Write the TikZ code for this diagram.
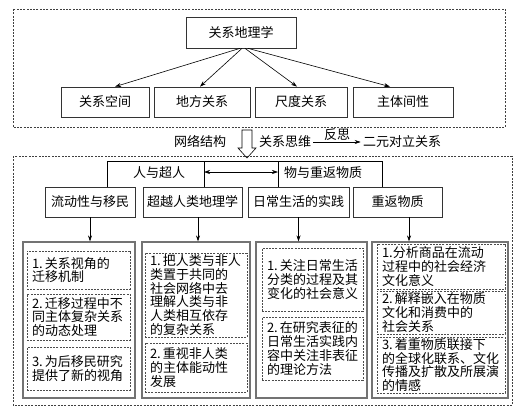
\documentclass[tikz,border=0pt]{standalone}
\usepackage{fontspec}
\setmainfont{Noto Sans CJK SC}
\usetikzlibrary{arrows.meta}
\def\big{\fontsize{13}{14}\selectfont}
\def\small{\fontsize{13}{13.8}\selectfont}
\def\no#1{#1.\kern2pt}
\tikzset{
  box/.style={draw=black!80,line width=0.7pt,minimum height=30pt,inner sep=2pt,font=\big},
  colbox/.style={draw=black!55,line width=1.1pt,minimum height=156pt,minimum width=#1},
  ibox/.style={draw=black!70,line width=0.6pt,dash pattern=on 2pt off 1.2pt,
    inner xsep=5pt,inner ysep=0.5pt,text width=#1,align=left,font=\small},
  frame/.style={draw=black!75,line width=0.6pt,dash pattern=on 2pt off 1.3pt},
  arr/.style={-{Stealth[length=6pt,width=4pt]},line width=0.6pt},
  darr/.style={{Stealth[length=6pt,width=4pt]}-{Stealth[length=6pt,width=4pt]},line width=0.6pt},
  lbl/.style={font=\big,inner sep=2pt}
}
\begin{document}
\begin{tikzpicture}[x=1pt,y=-1pt,line width=0.6pt]
                \useasboundingbox (0,0) rectangle (521,412);
                % upper frame
                \draw[frame] (13,9) rectangle (505,127);
                \node[box,minimum width=110pt,minimum height=31pt] (rg) at (241,32.5) {关系地理学};
                \node[box,minimum width=88pt]  (s1) at (105,102) {关系空间};
                \node[box,minimum width=96pt]  (s2) at (202,102) {地方关系};
                \node[box,minimum width=92pt]  (s3) at (301,102) {尺度关系};
                \node[box,minimum width=100pt] (s4) at (403,102) {主体间性};
                \draw[arr] ([xshift=-1pt]rg.south) -- ([xshift=10pt]s1.north);
                \draw[arr] ([xshift=1pt]rg.south)  -- ([xshift=-2pt]s2.north);
                \draw[arr] ([xshift=4pt]rg.south)  -- ([xshift=-4pt]s3.north);
                \draw[arr] ([xshift=7pt]rg.south)  -- ([xshift=-13pt]s4.north);
                % middle line
                \draw[line width=0.6pt] (242,130) -- (252,130) -- (252,148) -- (256,148)
                    -- (247,158) -- (238,148) -- (242,148) -- cycle;
                \node[lbl] (net) at (200,141) {网络结构};
                \node[lbl] (think) at (285,142) {关系思维};
                \node[lbl] (dual) at (402,142) {二元对立关系};
                \draw[arr] (think) -- (dual) node[midway,above,lbl,yshift=-1pt] {反思};
                % lower frame
                \draw[frame] (13,156) rectangle (512,405);
                \node[box,minimum width=90pt]  (r1) at (90,202)    {流动性与移民};
                \node[box,minimum width=99pt]  (r2) at (192.5,202) {超越人类地理学};
                \node[box,minimum width=101pt] (r3) at (298.5,202) {日常生活的实践};
                \node[box,minimum width=89pt]  (r4) at (397.5,202) {重返物质};
                \coordinate (b1) at (107,161);
                \coordinate (b2) at (204,161);
                \coordinate (b3) at (278,161);
                \coordinate (b4) at (382,161);
                \draw (b1 |- r1.north) -- (b1) -- (b4) -- (b4 |- r4.north);
                \draw (b2) -- (b2 |- r2.north);
                \draw (b3) -- (b3 |- r3.north);
                \draw[darr] ([yshift=-11pt]b2) -- ([yshift=-11pt]b3);
                \node[lbl] (man) at (159,173) {人与超人};
                \node[lbl] (thing) at (323,173) {物与重返物质};
                % columns
                \node[colbox=112pt] (c1) at (79,320) {};
                \node[colbox=108pt] (c2) at (196,320) {};
                \node[colbox=111pt] (c3) at (311.5,320) {};
                \node[colbox=136pt] (c4) at (440,320) {};
                \draw[arr] (r1.south) -- (r1.south |- c1.north);
                \draw[arr] ([xshift=5.5pt]r2.south) -- ([xshift=5.5pt]r2.south |- c2.north);
                \draw[arr] (r3.south) -- (r3.south |- c3.north);
                \draw[arr] ([xshift=11.5pt]r4.south) -- ([xshift=11.5pt]r4.south |- c4.north);
                \node[ibox=93pt,minimum height=38pt] (c1a) at (78.5,270) {\no1关系视角的\\迁移机制};
                \node[ibox=93pt,minimum height=46pt] (c1b) at (78.5,317) {\no2迁移过程中不\\同主体复杂关系\\的动态处理};
                \node[ibox=93pt,minimum height=43pt] (c1c) at (78.5,368.5) {\no3为后移民研究\\提供了新的视角};
                \node[ibox=92pt,minimum height=84pt] (c2a) at (196,295) {\no1把人类与非人\\类置于共同的\\社会网络中去\\理解人类与非\\人类相互依存\\的复杂关系};
                \node[ibox=92pt,minimum height=49pt] (c2b) at (196,367.5) {\no2重视非人类\\的主体能动性\\发展};
                \node[ibox=91pt,minimum height=63pt] (c3a) at (312.5,279.5) {\no1关注日常生活\\分类的过程及其\\变化的社会意义};
                \node[ibox=91pt,minimum height=63pt] (c3b) at (312.5,348.5) {\no2在研究表征的\\日常生活实践内\\容中关注非表征\\的理论方法};
                \node[ibox=118pt,minimum height=45pt] (c4a) at (441,266.5) {1.分析商品在流动\\过程中的社会经济\\文化意义};
                \node[ibox=118pt,minimum height=43pt] (c4b) at (441,312.5) {\no2解释嵌入在物质\\文化和消费中的\\社会关系};
                \node[ibox=118pt,minimum height=56pt] (c4c) at (441,365) {\no3着重物质联接下\\的全球化联系、文化\\传播及扩散及所展演\\的情感};
            \end{tikzpicture}
\end{document}
